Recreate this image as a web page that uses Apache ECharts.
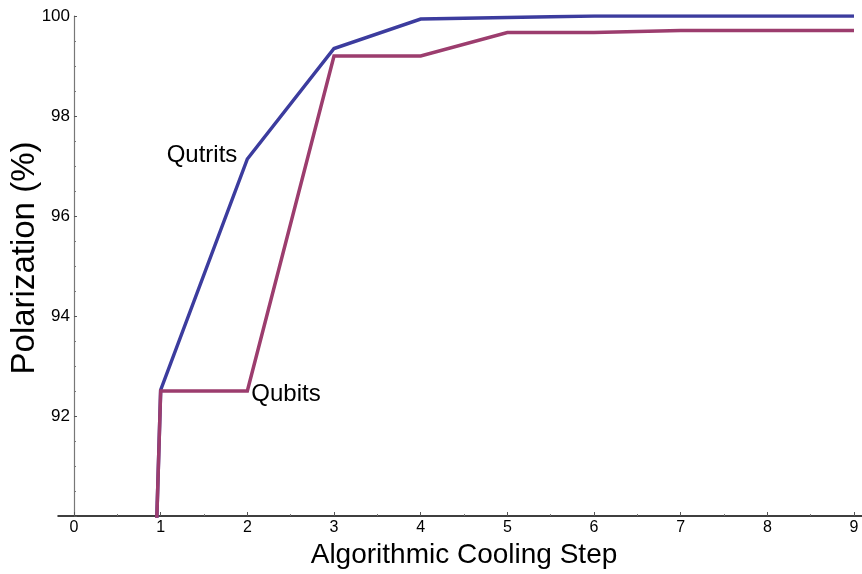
<!DOCTYPE html>
<html>
<head>
<meta charset="utf-8">
<script src="https://cdn.jsdelivr.net/npm/echarts@6/dist/echarts.min.js"></script>
<style>
  html, body { margin: 0; padding: 0; background: #fff; }
  #chart { width: 862px; height: 574px; }
</style>
</head>
<body>
<div id="chart"></div>
<script>
// Cooling steps and polarization (%) after each step
const steps = [0, 1, 2, 3, 4, 5, 6, 7, 8, 9];
const qutrits = [35, 92.52, 97.14, 99.35, 99.94, 99.97, 100, 100, 100, 100];
const qubits = [35, 92.5, 92.5, 99.2, 99.2, 99.67, 99.67, 99.71, 99.71, 99.71];
const seriesNames = ['Qutrits', 'Qubits'];
const labelStep = 2;

const FONT = '"Liberation Sans", Arial, sans-serif';

function withLabel(values, labelCfg) {
  return steps.map((s, i) => {
    const p = [s, values[i]];
    if (s !== labelStep) return p;
    return { value: p, label: labelCfg };
  });
}

const chart = echarts.init(document.getElementById('chart'), null, { renderer: 'canvas' });

chart.setOption({
  animation: false,
  backgroundColor: '#ffffff',
  grid: [
    // plotting area, starting at step 0
    { left: 74, top: 16, width: 780, height: 500, outerBoundsMode: 'none', containLabel: false },
    // wider band that only carries the long horizontal axis line
    { left: 58, top: 16, width: 804, height: 500, outerBoundsMode: 'none', containLabel: false }
  ],
  xAxis: [
    {
      gridIndex: 0,
      type: 'value',
      min: 0,
      max: 9,
      interval: 1,
      name: 'Algorithmic Cooling Step',
      nameLocation: 'middle',
      nameGap: 25,
      nameMoveOverlap: false,
      nameTextStyle: { fontFamily: FONT, fontSize: 28, color: '#000' },
      axisLine: { show: false },
      axisTick: { show: true, inside: true, length: 4, lineStyle: { color: '#555' } },
      minorTick: { show: true, splitNumber: 2, length: 2, lineStyle: { color: '#777' } },
      axisLabel: { fontFamily: FONT, fontSize: 16, color: '#000', margin: 4 },
      splitLine: { show: false }
    },
    {
      gridIndex: 1,
      type: 'value',
      min: 0,
      max: 1,
      axisLine: { show: true, onZero: false, lineStyle: { color: '#000', width: 1.5 } },
      axisTick: { show: false },
      axisLabel: { show: false },
      splitLine: { show: false }
    }
  ],
  yAxis: [
    {
      gridIndex: 0,
      type: 'value',
      min: 90,
      max: 100,
      interval: 2,
      name: 'Polarization (%)',
      nameLocation: 'middle',
      nameGap: 33,
      nameMoveOverlap: false,
      nameTextStyle: { fontFamily: FONT, fontSize: 33, color: '#000', padding: [0, 0, 0, 16] },
      axisLine: { show: true, onZero: false, lineStyle: { color: '#777', width: 1.2 } },
      axisTick: { show: true, inside: true, length: 3, lineStyle: { color: '#555' } },
      minorTick: { show: true, splitNumber: 4, length: 2, lineStyle: { color: '#777' } },
      axisLabel: {
        fontFamily: FONT, fontSize: 17, color: '#000', margin: 4,
        formatter: (v) => (v === 90 ? '' : String(v))
      },
      splitLine: { show: false }
    },
    {
      gridIndex: 1,
      type: 'value',
      min: 0,
      max: 1,
      show: false
    }
  ],
  series: [
    {
      name: seriesNames[0],
      type: 'line',
      xAxisIndex: 0,
      yAxisIndex: 0,
      clip: true,
      showSymbol: true,
      symbol: 'circle',
      symbolSize: 0,
      lineStyle: { color: '#3c3c9e', width: 3.5, join: 'miter' },
      itemStyle: { color: '#3c3c9e' },
      data: withLabel(qutrits, {
        show: true, position: 'left', distance: 10, offset: [0, -4],
        formatter: seriesNames[0], fontFamily: FONT, fontSize: 24, color: '#000'
      }),
      z: 2
    },
    {
      name: seriesNames[1],
      type: 'line',
      xAxisIndex: 0,
      yAxisIndex: 0,
      clip: true,
      showSymbol: true,
      symbol: 'circle',
      symbolSize: 0,
      lineStyle: { color: '#9c3d6e', width: 3.5, join: 'miter' },
      itemStyle: { color: '#9c3d6e' },
      data: withLabel(qubits, {
        show: true, position: 'right', distance: 4, offset: [0, 3],
        formatter: seriesNames[1], fontFamily: FONT, fontSize: 24, color: '#000'
      }),
      z: 3
    }
  ]
});
</script>
</body>
</html>
